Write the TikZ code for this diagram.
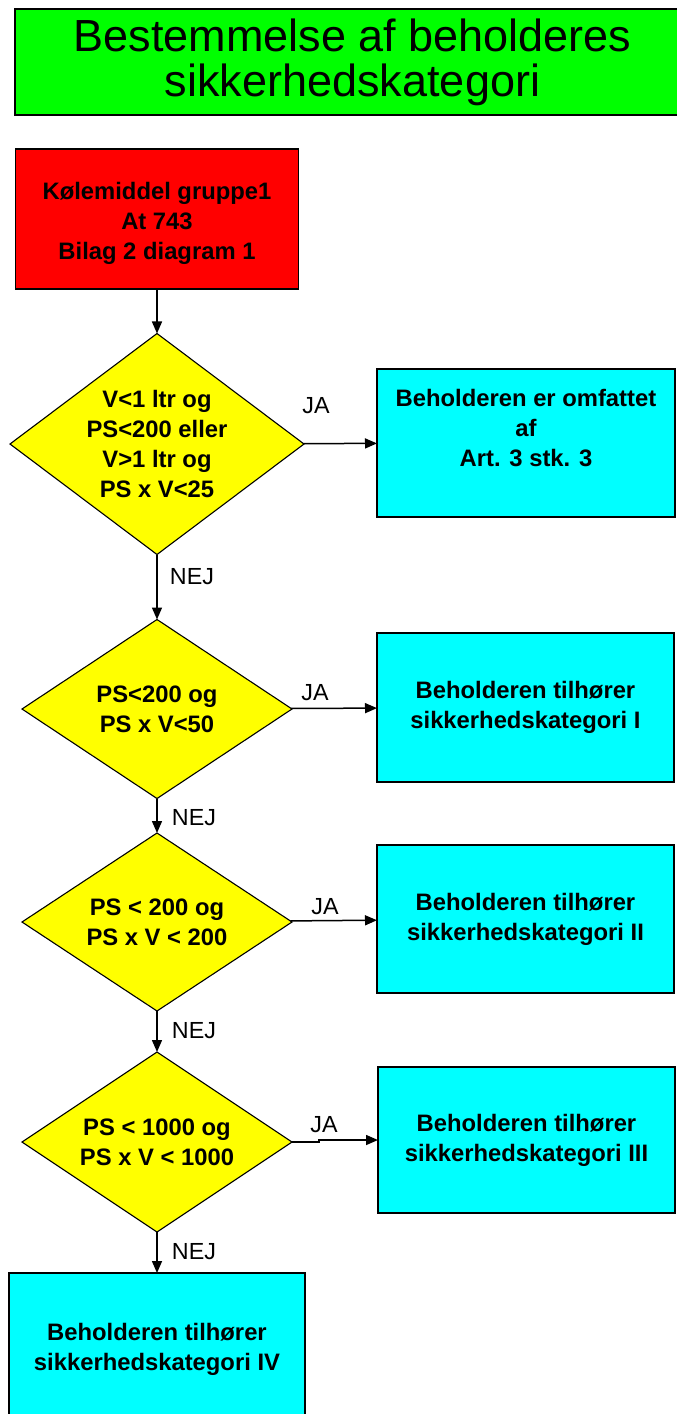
\documentclass[tikz,border=0pt]{standalone}
\usepackage{fontspec}
\setmainfont{Liberation Sans}
\usetikzlibrary{shapes.geometric,arrows.meta}

\definecolor{titlegreen}{RGB}{0,255,0}
\definecolor{startred}{RGB}{255,0,0}
\definecolor{askyellow}{RGB}{255,255,0}
\definecolor{answercyan}{RGB}{0,255,255}

\begin{document}
\begin{tikzpicture}[x=1pt, y=-1pt,
  box/.style={draw, line width=1.3pt, inner sep=0pt, outer sep=0pt, align=center, font=\fontsize{23.8}{30}\selectfont\bfseries},
  ask/.style={diamond, draw, line width=1.1pt, fill=askyellow, aspect=1.5, inner sep=0pt, outer sep=0pt, align=center, font=\fontsize{23.8}{29.7}\selectfont\bfseries},
  flow/.style={-{Triangle[length=12pt,width=10pt]}, line width=1.5pt},
  answer/.style={inner sep=0pt, font=\fontsize{23.3}{28}\selectfont}]

\useasboundingbox (0,0) rectangle (677,1414);
\clip (0,0) rectangle (677,1414);

% title
\node[box, fill=titlegreen, minimum width=675pt, minimum height=106pt, font=\fontsize{45}{45}\selectfont] (title) at (352.5,62) {Bestemmelse af beholderes\\sikkerhedskategori};

% start
\node[box, fill=startred, minimum width=283pt, minimum height=140pt] (start) at (157,219) {\rule{0pt}{27pt}Kølemiddel gruppe1\\At 743\\Bilag 2 diagram 1};

% questions
\node[ask, aspect=1.33, inner sep=-5pt, minimum width=294pt, minimum height=221pt] (q1) at (157,444) {V<1 ltr og\\PS<200 eller\\V>1 ltr og\\PS x V<25};
\node[ask, minimum width=270pt, minimum height=179pt] (q2) at (157,709) {PS<200 og\\PS x V<50};
\node[ask, minimum width=270pt, minimum height=178pt] (q3) at (157,922) {PS < 200 og\\PS x V < 200};
\node[ask, minimum width=270pt, minimum height=180pt] (q4) at (157,1142) {PS < 1000 og\\PS x V < 1000};

% results
\node[box, fill=answercyan, minimum width=298pt, minimum height=148pt] (r1) at (526,443) {Beholderen er omfattet\\af\\Art. 3 stk. 3\\~};
\node[box, fill=answercyan, minimum width=297pt, minimum height=149pt] (r2) at (525.5,707.5) {Beholderen tilhører\\sikkerhedskategori I};
\node[box, fill=answercyan, minimum width=297pt, minimum height=148pt] (r3) at (525.5,919) {Beholderen tilhører\\sikkerhedskategori II};
\node[box, fill=answercyan, minimum width=297pt, minimum height=146pt] (r4) at (526.5,1140) {Beholderen tilhører\\sikkerhedskategori III};
\node[box, fill=answercyan, minimum width=296pt, minimum height=152pt] (r5) at (157,1349) {Beholderen tilhører\\sikkerhedskategori IV};

% JA / NEJ
\node[answer] (ja1) at (316,406) {JA};
\node[answer] (ja2) at (315,693) {JA};
\node[answer] (ja3) at (325,907) {JA};
\node[answer] (ja4) at (324,1125) {JA};
\node[answer] (nej1) at (192,577) {NEJ};
\node[answer] (nej2) at (194,818) {NEJ};
\node[answer] (nej3) at (194,1031) {NEJ};
\node[answer] (nej4) at (194,1252) {NEJ};

% arrows
\draw[flow] (start) -- (q1);
\draw[flow] (q1) -- (r1);
\draw[flow] (q1) -- (q2);
\draw[flow] (q2) -- (r2);
\draw[flow] (q2) -- (q3);
\draw[flow] (q3) -- (r3);
\draw[flow] (q3) -- (q4);
\draw[flow] (q4.east) -- ++(27,0) |- (r4.west);
\draw[flow] (q4) -- (r5);
\end{tikzpicture}
\end{document}
